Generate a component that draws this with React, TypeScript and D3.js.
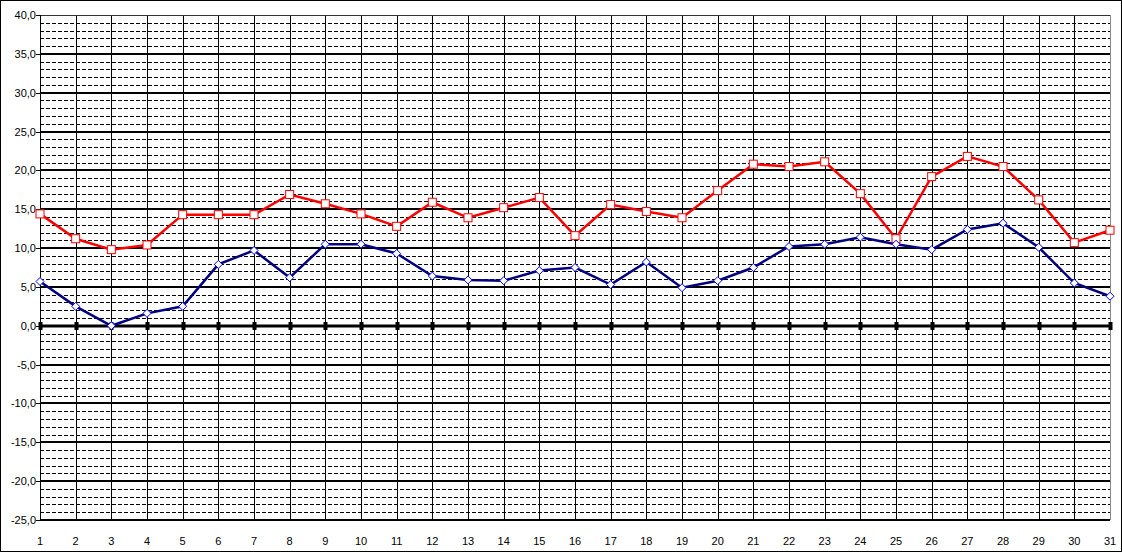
import React from "react";
import * as d3 from "d3";

const days = d3.range(1, 32).map(String);
const maxTemp = [14.4, 11.2, 9.8, 10.4, 14.3, 14.3, 14.3, 16.9, 15.7, 14.4, 12.8, 15.9, 13.9, 15.2, 16.5, 11.6, 15.6, 14.7, 13.9, 17.4, 20.8, 20.5, 21.1, 17.0, 11.2, 19.2, 21.8, 20.5, 16.2, 10.7, 12.3];
const minTemp = [5.7, 2.5, 0.0, 1.6, 2.5, 7.9, 9.7, 6.2, 10.5, 10.5, 9.3, 6.4, 5.9, 5.8, 7.1, 7.5, 5.3, 8.2, 4.9, 5.8, 7.5, 10.2, 10.5, 11.4, 10.5, 9.8, 12.4, 13.2, 10.1, 5.5, 3.8];
const yTicks = d3.range(-25, 41, 5);
const yMinor = d3.range(-25, 41, 1).filter((v) => v % 5 !== 0);

const W = 1122, H = 552;
const left = 40, right = 1110, top = 15, bottom = 520;

export default function App() {
  const x = d3.scalePoint<string>().domain(days).range([left, right]);
  const y = d3.scaleLinear().domain([-25, 40]).range([bottom, top]);
  const line = d3
    .line<number>()
    .x((_, i) => x(days[i]) as number)
    .y((d) => y(d));
  const font = "'Liberation Sans', Arial, sans-serif";
  return (
    <svg width={W} height={H} style={{ position: "absolute", left: 0, top: 0, background: "#fff" }}>
      <rect x={0.5} y={0.5} width={W - 1} height={H - 1} fill="#fff" stroke="#000" />
      {yMinor.map((v) => (
        <line key={"m" + v} x1={left} x2={right} y1={Math.round(y(v)) + 0.5} y2={Math.round(y(v)) + 0.5} stroke="#000" strokeDasharray="4,2" strokeWidth={1} shapeRendering="crispEdges" />
      ))}
      {days.map((d) => (
        <line key={"v" + d} x1={Math.round(x(d) as number) + 0.5} x2={Math.round(x(d) as number) + 0.5} y1={top} y2={bottom} stroke="#000" strokeWidth={1} />
      ))}
      {yTicks.filter((v) => v !== 40 && v !== 0).map((v) => (
        <line key={"M" + v} x1={left} x2={right} y1={Math.round(y(v))} y2={Math.round(y(v))} stroke="#000" strokeWidth={2} />
      ))}
      <line x1={left} x2={right} y1={Math.round(y(40)) + 0.5} y2={Math.round(y(40)) + 0.5} stroke="#333" strokeWidth={1} />
      <line x1={right + 0.5} x2={right + 0.5} y1={top} y2={bottom} stroke="#888" strokeWidth={1} />
      <line x1={left} x2={right} y1={Math.round(y(0))} y2={Math.round(y(0))} stroke="#000" strokeWidth={3} />
      {days.map((d) => (
        <rect key={"t" + d} x={Math.round(x(d) as number) - 1.5} y={Math.round(y(0)) - 4} width={4} height={8} fill="#000" />
      ))}
      <line x1={left + 0.5} x2={left + 0.5} y1={top} y2={bottom} stroke="#000" strokeWidth={1} />
      {yTicks.map((v) => (
        <g key={"yt" + v}>
          <line x1={left - 4} x2={left} y1={Math.round(y(v)) + 0.5} y2={Math.round(y(v)) + 0.5} stroke="#000" />
          <text x={36} y={y(v) + 4} textAnchor="end" fontFamily={font} fontSize={11} fill="#000">
            {v.toFixed(1).replace(".", ",")}
          </text>
        </g>
      ))}
      {days.map((d) => (
        <text key={"xl" + d} x={x(d) as number} y={545} textAnchor="middle" fontFamily={font} fontSize={11} fill="#000">
          {d}
        </text>
      ))}
      <path d={line(maxTemp) || ""} fill="none" stroke="#ff0000" strokeWidth={2.5} />
      <path d={line(minTemp) || ""} fill="none" stroke="#000080" strokeWidth={2.5} />
      {maxTemp.map((v, i) => (
        <rect key={"r" + i} x={(x(days[i]) as number) - 4} y={y(v) - 4} width={8} height={8} fill="#fff" stroke="#ff0000" strokeWidth={1} />
      ))}
      {minTemp.map((v, i) => {
        const cx = x(days[i]) as number, cy = y(v);
        return (
          <path key={"b" + i} d={`M${cx},${cy - 4}L${cx + 4},${cy}L${cx},${cy + 4}L${cx - 4},${cy}Z`} fill="#fff" stroke="#0000ff" strokeWidth={1} />
        );
      })}
    </svg>
  );
}
